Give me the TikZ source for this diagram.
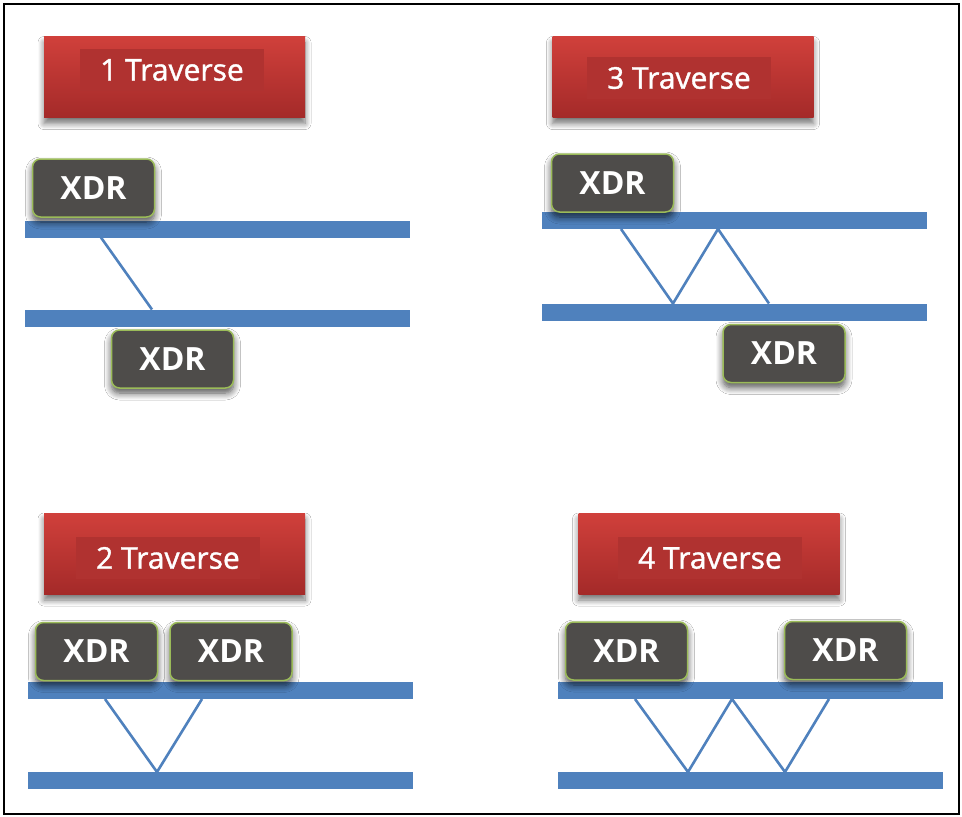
\documentclass[tikz,border=0pt]{standalone}
\usepackage{fontspec}
\setmainfont{Open Sans}
\newfontfamily\tagfont[FakeBold=1.2]{Open Sans}
\usepackage{tikz}
\usetikzlibrary{shadows.blur}
\definecolor{tagred}{RGB}{208,64,59}
\definecolor{tagdark}{RGB}{164,42,41}
\definecolor{taginner}{RGB}{176,50,48}
\definecolor{xdrgray}{RGB}{78,76,74}
\definecolor{xdrgreen}{RGB}{155,187,89}
\definecolor{railblue}{RGB}{79,129,189}

\begin{document}
\begin{tikzpicture}[x=1pt,y=-1pt,
  tag/.style={rectangle,top color=tagred,bottom color=tagdark,
              minimum width=261pt,minimum height=81pt,inner sep=0pt,
              blur shadow={shadow xshift=0pt,shadow yshift=-6pt,shadow blur steps=8,
                           shadow blur radius=6pt,shadow opacity=55}},
  tagtext/.style={fill=taginner,text=white,font=\tagfont\fontsize{30}{30}\selectfont,
              minimum width=184pt,minimum height=42pt,inner sep=0pt},
  xdr/.style={rectangle,rounded corners=8pt,fill=xdrgray,draw=xdrgreen,line width=1.5pt,
              minimum width=122pt,minimum height=58pt,inner sep=0pt,text=white,
              font=\fontsize{32}{32}\selectfont\bfseries,
              blur shadow={shadow xshift=0pt,shadow yshift=-5pt,shadow blur steps=8,
                           shadow blur radius=7pt,shadow opacity=70}},
  rail/.style={rectangle,fill=railblue,minimum width=385pt,minimum height=17pt,inner sep=0pt},
  ray/.style={draw=railblue,line width=2.6pt}
]
  \useasboundingbox (0,0) rectangle (962,817);
  \fill[white] (0,0) rectangle (962,817);
  \draw[line width=2.8pt] (4,4) rectangle (959,814);

  % 1 traverse
  \node[tag] (tag1) at (174.5,77) {};
  \node[tagtext] (lab1) at (172,70) {1 Traverse};
  \node[rail] (top1) at (217.5,229) {};
  \node[rail] (bot1) at (217.5,318) {};
  \coordinate (a1) at (101,237.5);
  \coordinate (b1) at (152,309.5);
  \draw[ray] (a1) -- (b1);
  \node[xdr] (x1a) at (93.5,188) {XDR};
  \node[xdr] (x1b) at (172.5,359) {XDR};

  % 3 traverse
  \node[tag] (tag3) at (683,77) {};
  \node[tagtext] (lab3) at (679,78) {3 Traverse};
  \node[rail] (top3) at (734.5,220.5) {};
  \node[rail] (bot3) at (734.5,312) {};
  \coordinate (a3) at (621,229);
  \coordinate (b3) at (673,303.5);
  \coordinate (c3) at (718,229);
  \coordinate (d3) at (769,303.5);
  \draw[ray] (a3) -- (b3) -- (c3) -- (d3);
  \node[xdr] (x3a) at (612.5,183) {XDR};
  \node[xdr] (x3b) at (784,353.5) {XDR};

  % 2 traverse
  \node[tag] (tag2) at (174.5,553.5) {};
  \node[tagtext] (lab2) at (168,558) {2 Traverse};
  \node[rail] (top2) at (220.5,690.5) {};
  \node[rail] (bot2) at (220.5,780.5) {};
  \coordinate (a2) at (105,699);
  \coordinate (b2) at (157,772);
  \coordinate (c2) at (202,699);
  \draw[ray] (a2) -- (b2) -- (c2);
  \node[xdr] (x2a) at (96.5,651.5) {XDR};
  \node[xdr] (x2b) at (231,651.5) {XDR};

  % 4 traverse
  \node[tag] (tag4) at (709,553.5) {};
  \node[tagtext] (lab4) at (710,558) {4 Traverse};
  \node[rail] (top4) at (750,690.5) {};
  \node[rail] (bot4) at (750.5,780.5) {};
  \coordinate (a4) at (635,699);
  \coordinate (b4) at (688,772);
  \coordinate (c4) at (732,699);
  \coordinate (d4) at (785,772);
  \coordinate (e4) at (829,699);
  \draw[ray] (a4) -- (b4) -- (c4) -- (d4) -- (e4);
  \node[xdr] (x4a) at (626.5,651) {XDR};
  \node[xdr] (x4b) at (845.5,650.5) {XDR};
\end{tikzpicture}
\end{document}
